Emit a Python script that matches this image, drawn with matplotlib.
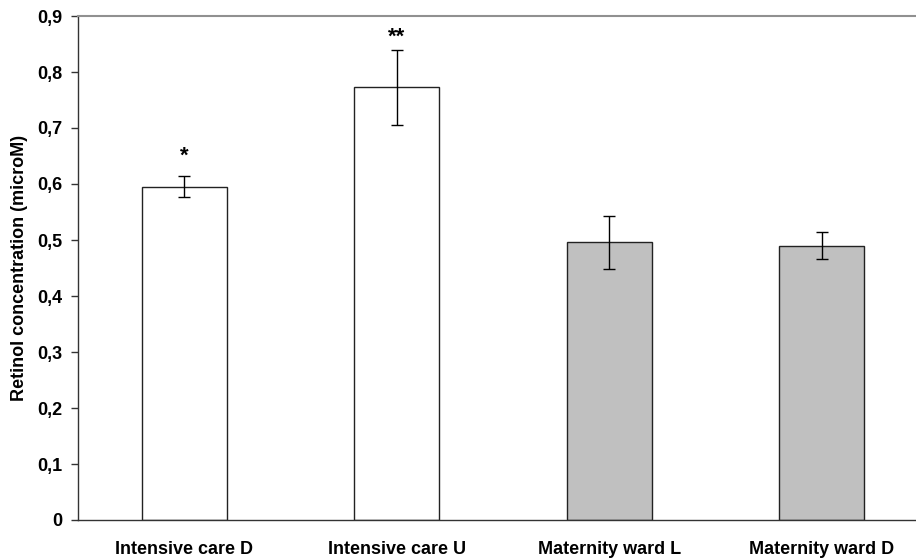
import numpy as np
import matplotlib
matplotlib.use("Agg")
from matplotlib import pyplot as plt

plt.rcParams['font.family'] = ['Liberation Sans', 'DejaVu Sans']
plt.rcParams['font.weight'] = 'bold'

# mean retinol per ward and its error
groups = ['Intensive care D', 'Intensive care U', 'Maternity ward L', 'Maternity ward D']
retinol = [0.595, 0.773, 0.496, 0.490]
errors = [0.019, 0.067, 0.047, 0.024]
colors = ['white', 'white', '#c0c0c0', '#c0c0c0']
marks = ['*', '**', '', '']
mark_y = [0.640, 0.853, 0, 0]

fig = plt.figure(figsize=(9.16, 5.58), dpi=100)
# axes run past the right edge, as in the original export
ax = fig.add_axes([78/916, 38/558, 850/916, 504/558])

x = np.arange(len(groups))
ax.bar(x, retinol, width=0.4, color=colors, edgecolor='#222222', linewidth=1.0, zorder=2)
ax.errorbar(x, retinol, yerr=errors, fmt='none', ecolor='black', elinewidth=1.0,
            capsize=4, capthick=1.0, zorder=3)

for xi, m, my in zip(x, marks, mark_y):
    if m:
        ax.text(xi, my, m, ha='center', va='baseline', fontsize=16, fontweight='bold')

ax.set_xlim(-0.5, 3.5)
ax.set_ylim(0, 0.9)
yt = np.arange(0, 0.91, 0.1)
ax.set_yticks(yt)
ax.set_yticklabels([t.replace('.', ',') for t in ['0'] + ['%.1f' % v for v in yt[1:]]])
ax.set_xticks(x)
ax.set_xticklabels(groups)
ax.tick_params(axis='x', length=0, pad=15, labelsize=13)
ax.tick_params(axis='y', length=5, width=1, direction='out', pad=6, labelsize=13, color='#333333')
for lab in ax.get_xticklabels() + ax.get_yticklabels():
    lab.set_fontweight('bold')

ax.set_ylabel('Retinol concentration (microM)', fontsize=13, fontweight='bold')
ax.yaxis.set_label_coords(-0.059, 0.5)

ax.spines['right'].set_visible(False)
ax.spines['top'].set_color('#909090')
ax.spines['top'].set_linewidth(1.5)
for s in ['left', 'bottom']:
    ax.spines[s].set_color('#333333')
    ax.spines[s].set_linewidth(1.0)

fig.savefig('out.png', dpi=100)
